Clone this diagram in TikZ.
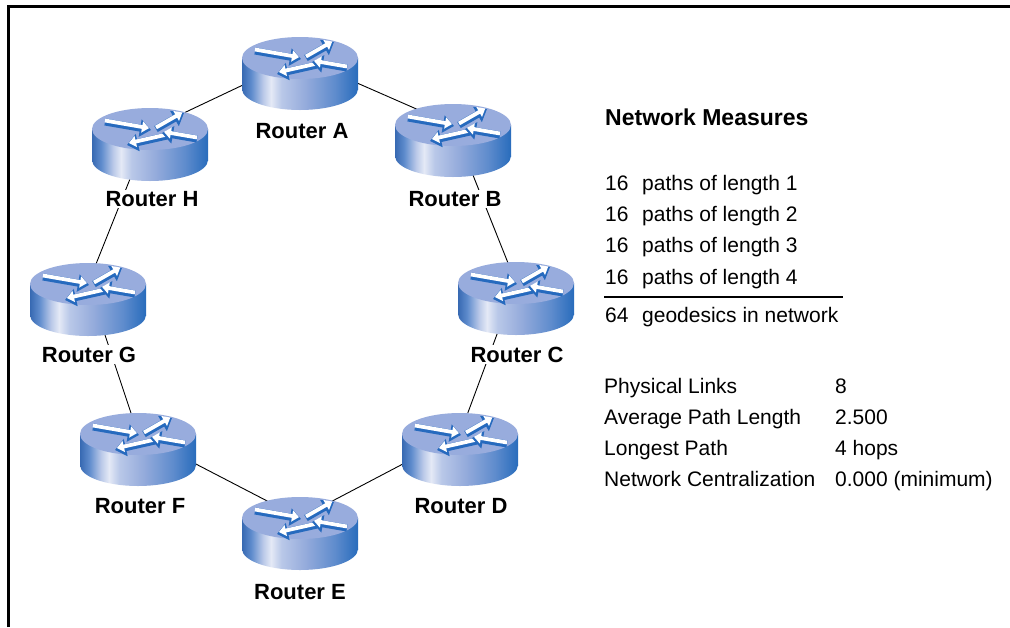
\documentclass[tikz,border=0pt]{standalone}
\usepackage{fontspec}
\setmainfont{Liberation Sans}
\usetikzlibrary{arrows.meta}
\definecolor{sA}{RGB}{55,105,178}
\definecolor{sB}{RGB}{95,140,205}
\definecolor{sC}{RGB}{185,200,232}
\definecolor{sD}{RGB}{228,233,246}
\definecolor{sE}{RGB}{150,172,220}
\definecolor{sF}{RGB}{95,140,205}
\definecolor{sG}{RGB}{40,108,188}
\definecolor{rtop}{RGB}{152,172,221}
\definecolor{rarrow}{RGB}{38,106,190}
\pgfdeclarehorizontalshading{rside}{100bp}{color(0bp)=(sA); color(25bp)=(sA); color(29bp)=(sB); color(34bp)=(sC); color(37.5bp)=(sD); color(42bp)=(sC); color(52bp)=(sE); color(65bp)=(sF); color(75bp)=(sG); color(100bp)=(sG)}
\pgfdeclarelayer{bg}
\pgfsetlayers{bg,main}
\tikzset{
  routerbox/.style={rectangle, inner sep=0pt, minimum width=116pt, minimum height=73pt},
  rlabel/.style={anchor=base, fill=white, inner sep=1.5pt, font=\fontsize{22}{26}\selectfont\bfseries},
  link/.style={draw=black, line width=0.9pt},
  arrowblue/.style={draw=rarrow, line width=7pt, -{Triangle[length=11pt,width=17pt]}},
  arrowwhite/.style={draw=white, line width=3.8pt, shorten >=2pt, -{Triangle[length=7pt,width=11pt]}},
  measure/.style={anchor=base west, inner sep=0pt, font=\fontsize{21}{25}\selectfont},
  heading/.style={anchor=base west, inner sep=0pt, font=\fontsize{23}{27}\selectfont\bfseries},
  frameline/.style={line width=2.6pt, draw=black},
  rulestyle/.style={line width=1.3pt, draw=black},
}
\newcommand\routerarrow[2]{%
  \draw[arrowblue] (#1) -- (#2);
  \draw[arrowwhite] ([yshift=1.5pt]#1) -- ([yshift=1.5pt]#2);
}
\newcommand\drawrouter[3]{%
  \node[routerbox] (#1) at (#2,#3+15.5) {};
  \begin{scope}[shift={(#2,#3)}]
    \shade[shading=rside] (-58,0) rectangle (58,31);
    \shade[shading=rside] (0,31) ellipse [x radius=58, y radius=21];
    \fill[rtop] (0,0) ellipse [x radius=58, y radius=21];
    \routerarrow{-45,-7}{1,1}
    \routerarrow{6,0}{34,-16}
    \routerarrow{17,7}{-23,16}
    \routerarrow{47,10}{12,4}
  \end{scope}
}
\begin{document}
\begin{tikzpicture}[x=1pt,y=-1pt]
\useasboundingbox (0,0) rectangle (1010,627);
\begin{pgfonlayer}{bg}
\fill[white] (0,0) rectangle (1010,627);
\end{pgfonlayer}
\draw[frameline] (8.5,627) -- (8.5,6.2) -- (1010,6.2);

% routers
\drawrouter{A}{300}{58}
\drawrouter{B}{453}{125}
\drawrouter{C}{516}{283}
\drawrouter{D}{460}{434}
\drawrouter{E}{300}{518}
\drawrouter{F}{138}{434}
\drawrouter{G}{88}{284}
\drawrouter{H}{150}{129}

% labels
\node[rlabel] (lA) at (302,138) {Router A};
\node[rlabel] (lB) at (455,206.5) {Router B};
\node[rlabel] (lC) at (517,362) {Router C};
\node[rlabel] (lD) at (461,513) {Router D};
\node[rlabel] (lE) at (300,599) {Router E};
\node[rlabel] (lF) at (140,513) {Router F};
\node[rlabel] (lG) at (89,362) {Router G};
\node[rlabel] (lH) at (152,206.5) {Router H};

% links
\begin{pgfonlayer}{bg}
\foreach \p/\q in {A/B,B/C,C/D,D/E,E/F,F/G,G/H,H/A}{
  \draw[link] ([yshift=15.5pt]\p.center) -- ([yshift=15.5pt]\q.center);
}
\end{pgfonlayer}

% measures
\node[heading] (title) at (605,125) {Network Measures};
\node[measure] (m1) at (605,190) {\makebox[37pt][l]{16}paths of length 1};
\node[measure] (m2) at (605,221) {\makebox[37pt][l]{16}paths of length 2};
\node[measure] (m3) at (605,252) {\makebox[37pt][l]{16}paths of length 3};
\node[measure] (m4) at (605,284) {\makebox[37pt][l]{16}paths of length 4};
\coordinate (r1) at (604,297);
\coordinate (r2) at (843,297);
\draw[rulestyle] (r1) -- (r2);
\node[measure] (m5) at (605,322) {\makebox[37pt][l]{64}geodesics in network};

\node[measure] (k1) at (604,393) {Physical Links};
\node[measure] (k2) at (604,424) {Average Path Length};
\node[measure] (k3) at (604,455) {Longest Path};
\node[measure] (k4) at (604,486) {Network Centralization};
\node[measure] (v1) at (835,393) {8};
\node[measure] (v2) at (835,424) {2.500};
\node[measure] (v3) at (835,455) {4 hops};
\node[measure] (v4) at (835,486) {0.000 (minimum)};
\end{tikzpicture}
\end{document}
